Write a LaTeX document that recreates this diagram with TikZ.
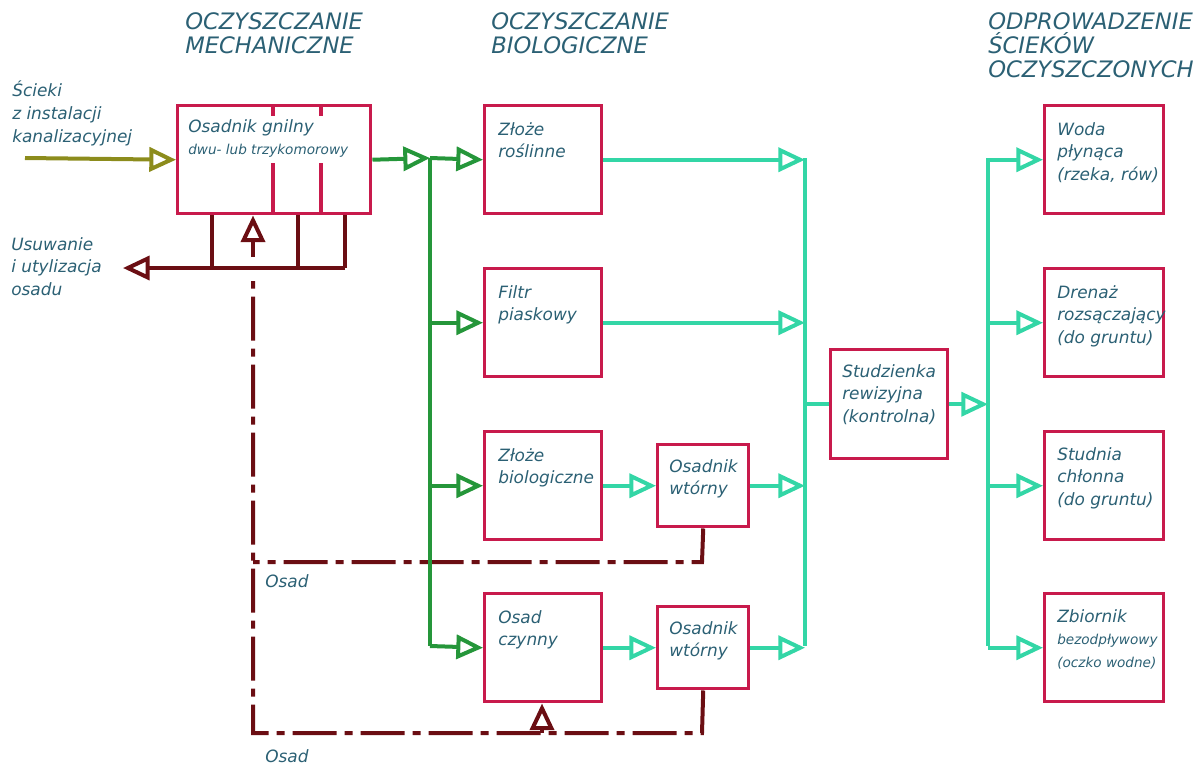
\documentclass[tikz,border=0pt]{standalone}
\usepackage{fontspec}
\setmainfont{DejaVu Sans}[ItalicFont={DejaVu Sans Oblique}]
\usepackage{tikz}
\usetikzlibrary{arrows.meta,calc}

\definecolor{ramka}{HTML}{C81A4C}
\definecolor{napis}{HTML}{2B6074}
\definecolor{oliwka}{HTML}{8C8C1C}
\definecolor{zielen}{HTML}{25963A}
\definecolor{turkus}{HTML}{33D6A6}
\definecolor{bordo}{HTML}{6B0E13}

\newcommand{\mala}{\fontsize{10.2}{17}\selectfont}

\tikzset{
  blok/.style={draw=ramka, line width=2.6pt, anchor=north west, inner sep=0pt},
  opis/.style={anchor=north west, align=left, inner sep=0pt, text=napis,
    font=\fontsize{12.7}{17}\selectfont\itshape},
  tytul/.style={anchor=north west, align=left, inner sep=0pt, text=napis,
    font=\fontsize{17}{18}\selectfont\itshape},
  grot/.style={-{Triangle[open,length=20pt,width=18pt]}},
  oliw/.style={draw=oliwka, line width=3pt},
  ziel/.style={draw=zielen, line width=3pt},
  turk/.style={draw=turkus, line width=3pt},
  osad/.style={draw=bordo, line width=3pt},
  kreska/.style={dash pattern=on 33pt off 6pt on 6pt off 6pt}
}

\begin{document}
\begin{tikzpicture}[x=0.75pt,y=-0.75pt]
    \useasboundingbox (0,0) rectangle (1203,765);

    % draw titles
    \node[tytul] (t-mech) at (185,12.7) {OCZYSZCZANIE\\MECHANICZNE};
    \node[tytul] (t-bio) at (491,12.7) {OCZYSZCZANIE\\BIOLOGICZNE};
    \node[tytul] (t-odp) at (988,12.7) {ODPROWADZENIE\\ŚCIEKÓW\\OCZYSZCZONYCH};

    % draw boxes
    \node[blok, minimum width=144.75pt, minimum height=81pt] (og) at (176,104) {};
    \node[blok, minimum width=87.75pt, minimum height=81pt] (zr) at (483,104) {};
    \node[blok, minimum width=87.75pt, minimum height=81pt] (fp) at (483,267) {};
    \node[blok, minimum width=87.75pt, minimum height=81pt] (zb) at (483,430) {};
    \node[blok, minimum width=87.75pt, minimum height=81pt] (oc) at (483,592) {};
    \node[blok, minimum width=68.25pt, minimum height=61.5pt] (ow1) at (656,443) {};
    \node[blok, minimum width=68.25pt, minimum height=61.5pt] (ow2) at (656,605) {};
    \node[blok, minimum width=87.75pt, minimum height=81.75pt] (st) at (829,348) {};
    \node[blok, minimum width=89.25pt, minimum height=81pt] (wp) at (1043,104) {};
    \node[blok, minimum width=89.25pt, minimum height=81pt] (dr) at (1043,267) {};
    \node[blok, minimum width=89.25pt, minimum height=81pt] (sc) at (1043,430) {};
    \node[blok, minimum width=89.25pt, minimum height=81pt] (zbo) at (1043,592) {};

    % chambers of the septic tank
    \draw[draw=ramka, line width=2.6pt] (273,104) -- (273,116) (321,104) -- (321,116);
    \draw[draw=ramka, line width=2.6pt] (273,163) -- (273,212) (321,163) -- (321,212);

    % draw texts in boxes
    \node[opis] (og-t) at ($(og.north west)+(12,15)$) {Osadnik gnilny\\{\mala dwu- lub trzykomorowy}};
    \node[opis] (zr-t) at ($(zr.north west)+(15,18)$) {Złoże\\roślinne};
    \node[opis] (fp-t) at ($(fp.north west)+(15,18)$) {Filtr\\piaskowy};
    \node[opis] (zb-t) at ($(zb.north west)+(15,18)$) {Złoże\\biologiczne};
    \node[opis] (oc-t) at ($(oc.north west)+(15,18)$) {Osad\\czynny};
    \node[opis] (ow1-t) at ($(ow1.north west)+(13,16)$) {Osadnik\\wtórny};
    \node[opis] (ow2-t) at ($(ow2.north west)+(13,16)$) {Osadnik\\wtórny};
    \node[opis] (st-t) at ($(st.north west)+(13,16)$) {Studzienka\\rewizyjna\\(kontrolna)};
    \node[opis] (wp-t) at ($(wp.north west)+(14,18)$) {Woda\\płynąca\\(rzeka, rów)};
    \node[opis] (dr-t) at ($(dr.north west)+(14,18)$) {Drenaż\\rozsączający\\(do gruntu)};
    \node[opis] (sc-t) at ($(sc.north west)+(14,17)$) {Studnia\\chłonna\\(do gruntu)};
    \node[opis] (zbo-t) at ($(zbo.north west)+(14,17)$) {Zbiornik\\{\mala bezodpływowy}\\{\mala (oczko wodne)}};

    % draw side texts
    \node[opis] (wej-t) at (12,81) {Ścieki\\z instalacji\\kanalizacyjnej};
    \node[opis] (odb-t) at (11,237) {Usuwanie\\i utylizacja\\osadu};
    \node[opis] (osad1) at (265,574) {Osad};
    \node[opis] (osad2) at (265,749) {Osad};

    % inflow
    \coordinate (wej) at (25,158);
    \draw[oliw,grot] (wej) -- (og.west);

    % sludge removal
    \coordinate (r1) at (212,268);
    \coordinate (r2) at (298,268);
    \coordinate (r3) at (345,268);
    \coordinate (odb) at (123,268);
    \coordinate (pod) at (253,257);
    \draw[osad] (r1 |- og.south) -- (r1);
    \draw[osad] (r2 |- og.south) -- (r2);
    \draw[osad] (r3 |- og.south) -- (r3);
    \draw[osad,grot] (r3) -- (odb);
    \draw[osad,grot] (pod) -- (pod |- og.south);

    % sludge return
    \coordinate (d0) at (253,281);
    \coordinate (d1) at (253,562);
    \coordinate (d2) at (253,733);
    \coordinate (p1) at (702,562);
    \coordinate (p2) at (702,733);
    \coordinate (pc) at (542,733);
    \draw[osad,kreska] (ow1.south) -- (p1) -- (d1);
    \draw[osad,kreska] (ow2.south) -- (p2) -- (d2) -- (d0);
    \draw[osad,grot] (pc) -- (pc |- oc.south);

    % green lines
    \coordinate (g1) at (430,158);
    \coordinate (g4) at (430,646);
    \draw[ziel,grot] (og.east) -- (g1);
    \draw[ziel] (g1) -- (g4);
    \draw[ziel,grot] (g1) -- (zr.west);
    \draw[ziel,grot] (g1 |- fp.west) -- (fp.west);
    \draw[ziel,grot] (g1 |- zb.west) -- (zb.west);
    \draw[ziel,grot] (g4) -- (oc.west);

    % turquoise lines
    \coordinate (k1) at (805,158);
    \coordinate (k4) at (805,646);
    \draw[turk,grot] (zr.east) -- (zr.east -| k1);
    \draw[turk,grot] (fp.east) -- (fp.east -| k1);
    \draw[turk,grot] (zb.east) -- (ow1.west);
    \draw[turk,grot] (ow1.east) -- (ow1.east -| k1);
    \draw[turk,grot] (oc.east) -- (ow2.west);
    \draw[turk,grot] (ow2.east) -- (ow2.east -| k1);
    \draw[turk] (k1) -- (k4);
    \draw[turk] (st.west -| k1) -- (st.west);

    \coordinate (s1) at (988,158);
    \coordinate (s4) at (988,646);
    \draw[turk,grot] (st.east) -- (st.east -| s1);
    \draw[turk] (s1) -- (s4);
    \foreach \b in {wp,dr,sc,zbo}
    \draw[turk,grot] (s1 |- \b.west) -- (\b.west);

  \end{tikzpicture}
\end{document}
